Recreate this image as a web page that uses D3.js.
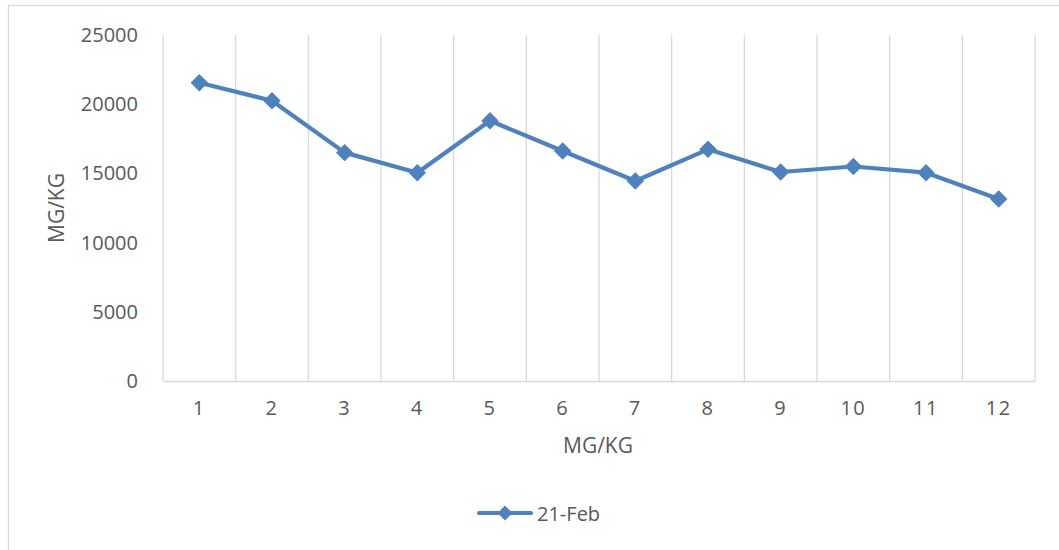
<!DOCTYPE html>
<html>
<head>
<meta charset="utf-8">
<script src="https://cdn.jsdelivr.net/npm/d3@7"></script>
<style>
  html, body { margin: 0; padding: 0; background: #ffffff; }
  svg { display: block; }
  text { font-family: "Open Sans", "Liberation Sans", sans-serif; fill: #595959; }
</style>
</head>
<body>
<svg id="chart" width="1059" height="550"></svg>
<script>
const categories = ["1", "2", "3", "4", "5", "6", "7", "8", "9", "10", "11", "12"];
const values = [21550, 20250, 16500, 15050, 18800, 16620, 14450, 16740, 15100, 15500, 15050, 13150];
const yTicks = [0, 5000, 10000, 15000, 20000, 25000];
const seriesName = "21-Feb";
const axisTitleX = "MG/KG";
const axisTitleY = "MG/KG";

const W = 1059, H = 550;
const plot = { left: 163, right: 1035, top: 35, bottom: 381 };
const lineColor = "#4f81bd";
const gridColor = "#d9d9d9";

const svg = d3.select("#chart");

// outer chart border
svg.append("rect")
  .attr("x", 8.5).attr("y", 5.5)
  .attr("width", W + 10).attr("height", H + 10)
  .attr("fill", "#fff").attr("stroke", gridColor).attr("stroke-width", 1.3);

const x = d3.scaleBand().domain(categories).range([plot.left, plot.right]).padding(0);
const y = d3.scaleLinear().domain([0, 25000]).range([plot.bottom, plot.top]);

// vertical gridlines at category boundaries
const bounds = categories.map(c => x(c)).concat([plot.right]);
svg.append("g").selectAll("line").data(bounds).join("line")
  .attr("x1", d => d).attr("x2", d => d)
  .attr("y1", plot.top).attr("y2", plot.bottom)
  .attr("stroke", gridColor).attr("stroke-width", 1.3);

// x axis
const xAxis = svg.append("g")
  .attr("transform", `translate(0,${plot.bottom})`)
  .call(d3.axisBottom(x).tickSize(0).tickPadding(0));
xAxis.select(".domain").attr("stroke", gridColor).attr("stroke-width", 1.3);
xAxis.selectAll("text")
  .attr("y", 34).attr("dy", null)
  .style("font-size", "20px")
  .style("letter-spacing", "1.5px")
  .attr("fill", "#595959");

// y axis (labels only)
const yAxis = svg.append("g")
  .attr("transform", `translate(${plot.left},0)`)
  .call(d3.axisLeft(y).tickValues(yTicks).tickSize(0).tickPadding(25).tickFormat(d3.format("d")));
yAxis.select(".domain").remove();
yAxis.selectAll("text")
  .style("font-size", "20px")
  .attr("fill", "#595959");

// axis titles
svg.append("text")
  .attr("x", (plot.left + plot.right) / 2 - 1).attr("y", 453)
  .attr("text-anchor", "middle")
  .style("font-size", "21px")
  .text(axisTitleX);
svg.append("text")
  .attr("transform", `translate(64,${(plot.top + plot.bottom) / 2}) rotate(-90)`)
  .attr("text-anchor", "middle")
  .style("font-size", "21px")
  .text(axisTitleY);

// series line
const cx = d => x(d) + x.bandwidth() / 2;
const data = categories.map((c, i) => ({ c, v: values[i] }));
svg.append("path")
  .datum(data)
  .attr("fill", "none")
  .attr("stroke", lineColor)
  .attr("stroke-width", 4.2)
  .attr("stroke-linejoin", "round")
  .attr("stroke-linecap", "round")
  .attr("d", d3.line().x(d => cx(d.c)).y(d => y(d.v)));

const diamond = d3.symbol().type(d3.symbolDiamond2 || d3.symbolSquare2).size(140);
svg.append("g").selectAll("path").data(data).join("path")
  .attr("transform", d => `translate(${cx(d.c)},${y(d.v)}) rotate(45)`)
  .attr("d", d3.symbol().type(d3.symbolSquare).size(128)())
  .attr("fill", lineColor)
  .attr("stroke", lineColor)
  .attr("stroke-width", 1);

// legend
const lg = svg.append("g");
lg.append("line")
  .attr("x1", 479).attr("x2", 531).attr("y1", 513).attr("y2", 513)
  .attr("stroke", lineColor).attr("stroke-width", 4.2).attr("stroke-linecap", "round");
lg.append("path")
  .attr("transform", "translate(505,513) rotate(45)")
  .attr("d", d3.symbol().type(d3.symbolSquare).size(110)())
  .attr("fill", lineColor);
lg.append("text")
  .attr("x", 537).attr("y", 521)
  .style("font-size", "20px")
  .text(seriesName);
</script>
</body>
</html>
